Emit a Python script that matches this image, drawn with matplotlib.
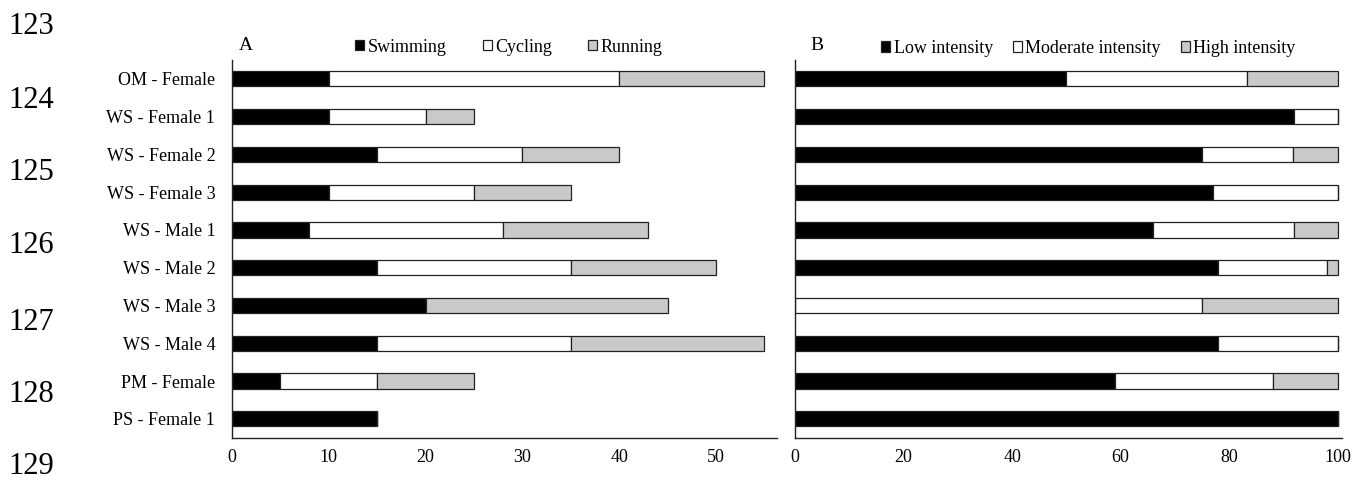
import numpy as np
import matplotlib
matplotlib.use("Agg")
import matplotlib.pyplot as plt

plt.rcParams['font.family'] = ['Liberation Serif', 'DejaVu Serif']

athletes = ["OM - Female", "WS - Female 1", "WS - Female 2", "WS - Female 3",
            "WS - Male 1", "WS - Male 2", "WS - Male 3", "WS - Male 4",
            "PM - Female", "PS - Female 1"]

# panel A: weekly hours per discipline
swimming = [10, 10, 15, 10, 8, 15, 20, 15, 5, 15]
cycling = [30, 10, 15, 15, 20, 20, 0, 20, 10, 0]
running = [15, 5, 10, 10, 15, 15, 25, 20, 10, 0]

# panel B: % of training per intensity zone
low_int = [50, 92, 75, 77, 66, 78, 0, 78, 59, 100]
moderate_int = [33.3, 8, 16.7, 23, 26, 20, 75, 22, 29, 0]
high_int = [16.7, 0, 8.3, 0, 8, 2, 25, 0, 12, 0]

line_numbers = ["123", "124", "125", "126", "127", "128", "129"]
line_y_px = [27, 100, 173, 246, 322, 395, 467]

gray = "#c9c9c9"
fs = 13

fig = plt.figure(figsize=(13.64, 4.8), dpi=100)
axA = fig.add_axes([232 / 1364, 1 - 437.7 / 480, 545 / 1364, 377.7 / 480])
axB = fig.add_axes([795 / 1364, 1 - 437.7 / 480, 547 / 1364, 377.7 / 480])

y = np.arange(len(athletes))


def stacked(ax, series, labels):
    left = np.zeros(len(athletes))
    for vals, col, lab in zip(series, ["black", "white", gray], labels):
        ax.barh(y, vals, left=left, height=0.4, color=col,
                edgecolor="#222222", linewidth=0.9, label=lab)
        left = left + np.array(vals)
    ax.set_ylim(len(athletes) - 0.5, -0.5)
    for s in ["top", "right"]:
        ax.spines[s].set_visible(False)
    for s in ["left", "bottom"]:
        ax.spines[s].set_linewidth(1.0)
        ax.spines[s].set_color("#222222")
    ax.tick_params(axis="both", length=0, labelsize=fs)
    ax.tick_params(axis="x", pad=8)


stacked(axA, [swimming, cycling, running], ["Swimming", "Cycling", "Running"])
axA.set_xlim(0, 56.3)
axA.set_xticks([0, 10, 20, 30, 40, 50])
axA.set_yticks(y)
axA.set_yticklabels(athletes)
axA.tick_params(axis="y", pad=12)
axA.legend(loc="center left", bbox_to_anchor=(0.2257, 1.034), ncol=3,
           frameon=False, fontsize=fs, handlelength=0.5, handleheight=0.5,
           handletextpad=0.2, columnspacing=2.0, borderpad=0, borderaxespad=0)

stacked(axB, [low_int, moderate_int, high_int],
        ["Low intensity", "Moderate intensity", "High intensity"])
axB.set_xlim(0, 100.8)
axB.set_xticks([0, 20, 40, 60, 80, 100])
axB.set_yticks([])
axB.legend(loc="center left", bbox_to_anchor=(0.157, 1.031), ncol=3,
           frameon=False, fontsize=fs, handlelength=0.5, handleheight=0.5,
           handletextpad=0.2, columnspacing=1.1, borderpad=0, borderaxespad=0)

fig.text(239 / 1364, 1 - 45 / 480, "A", fontsize=fs + 1, va="center", ha="left")
fig.text(810 / 1364, 1 - 45 / 480, "B", fontsize=fs + 1, va="center", ha="left")

for lab, ypx in zip(line_numbers, line_y_px):
    fig.text(8 / 1364, 1 - ypx / 480, lab, fontsize=22, va="center", ha="left")

fig.savefig("out.png", dpi=100)
